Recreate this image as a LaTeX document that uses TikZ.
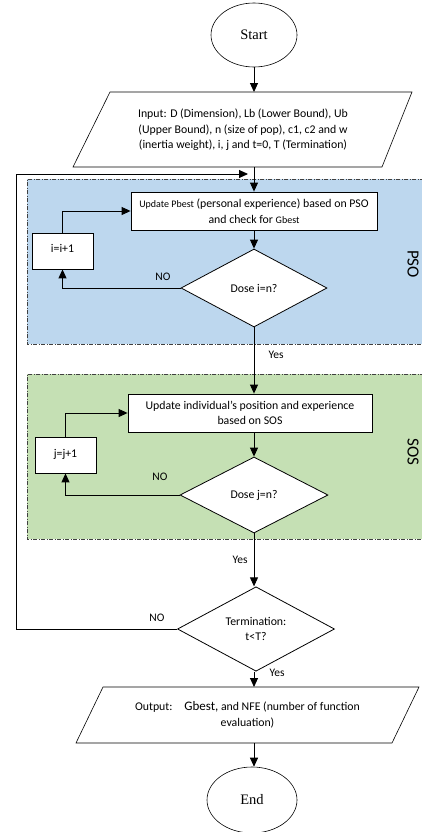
\documentclass[tikz,border=0pt]{standalone}
\usepackage{fontspec}
\setmainfont{Carlito}
\newfontfamily\serifface{Liberation Serif}
\usetikzlibrary{shapes.geometric,arrows.meta}
\definecolor{psoblue}{HTML}{BDD7EE}
\definecolor{sosgreen}{HTML}{C5E0B4}
\definecolor{rgline}{HTML}{404040}
\begin{document}
\begin{tikzpicture}[x=1pt,y=-1pt,
  line width=0.9pt,
  arr/.style={-{Triangle[length=9pt,width=8pt]}},
  txt/.style={font=\fontsize{11.8}{15.5}\selectfont, align=center},
  lbl/.style={font=\fontsize{11.5}{13}\selectfont, inner sep=0pt},
  procbox/.style={draw, fill=white, line width=0.8pt, inner sep=0pt, txt},
  decbox/.style={draw, fill=white, diamond, line width=0.8pt, inner sep=0pt, txt},
  term/.style={draw, ellipse, line width=0.6pt, inner sep=0pt, font=\serifface\fontsize{14.5}{16}\selectfont},
  region/.style={draw=rgline, line width=0.7pt, dash pattern=on 4pt off 1.5pt on 1pt off 1.5pt},
  sidelbl/.style={font=\fontsize{17}{18}\selectfont, rotate=-90, inner sep=0pt}
]
\useasboundingbox (0,0) rectangle (422,832);
\clip (0,0) rectangle (422,832);

% regions
\fill[psoblue] (27,179) rectangle (440,344);
\draw[region] (440,179) -- (27,179) -- (27,344) -- (440,344);
\fill[sosgreen] (27,374) rectangle (440,539);
\draw[region] (440,374) -- (27,374) -- (27,539) -- (440,539);
\node[sidelbl] (psolbl) at (413,264) {PSO};
\node[sidelbl] (soslbl) at (413,452) {SOS};

% terminals
\node[term, minimum width=86pt, minimum height=64pt] (start) at (254,35) {Start};
\node[term, minimum width=90pt, minimum height=66pt] (end) at (252,800) {End};

% input parallelogram
\node[txt, minimum width=339pt, minimum height=75pt, inner sep=0pt] (input) at (243,130)
  {Input: D (Dimension), Lb (Lower Bound), Ub\\(Upper Bound), n (size of pop), c1, c2 and w\\(inertia weight), i, j and t=0, T (Termination)};
\draw[line width=0.6pt] (73,167) -- (110,92) -- (412,92) -- (382,167) -- cycle;

% PSO part
\node[procbox, minimum width=246pt, minimum height=38pt] (pbest) at (254,211)
  {{\fontsize{10}{12}\selectfont Update Pbest} (personal experience) based on PSO\\and check for {\fontsize{10}{12}\selectfont Gbest}};
\node[decbox, minimum width=146pt, minimum height=78pt] (d1) at (254,288) {Dose i=n?};
\node[procbox, minimum width=61pt, minimum height=36pt, text depth=6pt] (inc1) at (62.5,251) {i=i+1};

% SOS part
\node[procbox, minimum width=244pt, minimum height=38pt] (sos) at (250,413)
  {Update individual’s position and experience\\based on SOS};
\node[decbox, minimum width=148pt, minimum height=76pt] (d2) at (254,495) {Dose j=n?};
\node[procbox, minimum width=61pt, minimum height=36pt, text depth=4pt] (inc2) at (65.5,455) {j=j+1};

% termination
\node[decbox, minimum width=157pt, minimum height=72pt] (d3) at (256,629) {Termination:\\t<T?};

% output parallelogram
\node[txt, minimum width=343pt, minimum height=56pt, inner sep=0pt] (output) at (247.5,715)
  {Output:\quad {\fontsize{13}{14}\selectfont Gbest,} and NFE (number of function\\evaluation)};
\draw[line width=0.6pt] (76,743) -- (103,687) -- (419,687) -- (392,743) -- cycle;

% connectors
\coordinate (jn) at (254,174);
\draw[arr] (start.south) -- (start.south |- input.north);
\draw[arr] (254,167) -- (pbest.north -| 254,0);
\draw[arr] (pbest.south) -- (d1.north);
\draw[arr] (d1.west) -| (inc1.south);
\draw[arr] (inc1.north) |- (pbest.west);
\draw[arr] (d1.south) -- (sos.north -| d1.south);
\draw[arr] (sos.south -| d2.north) -- (d2.north);
\draw[arr] (d2.west) -| (inc2.south);
\draw[arr] (inc2.north) |- (sos.west);
\draw[arr] (d2.south) -- (d2.south |- d3.north);
\draw[arr] (d3.west) -- (16,629) -- (16,174) -- ([xshift=-6pt]jn);
\draw[arr] (d3.south -| 254,0) -- (254,687);
\draw[arr] (254,743) -- (end.north -| 254,0);

% labels
\node[lbl] (no1) at (163,277) {NO};
\node[lbl] (yes1) at (276,355) {Yes};
\node[lbl] (no2) at (160,477) {NO};
\node[lbl] (yes2) at (240,560) {Yes};
\node[lbl] (no3) at (157,618) {NO};
\node[lbl] (yes3) at (277,673) {Yes};
\end{tikzpicture}
\end{document}
